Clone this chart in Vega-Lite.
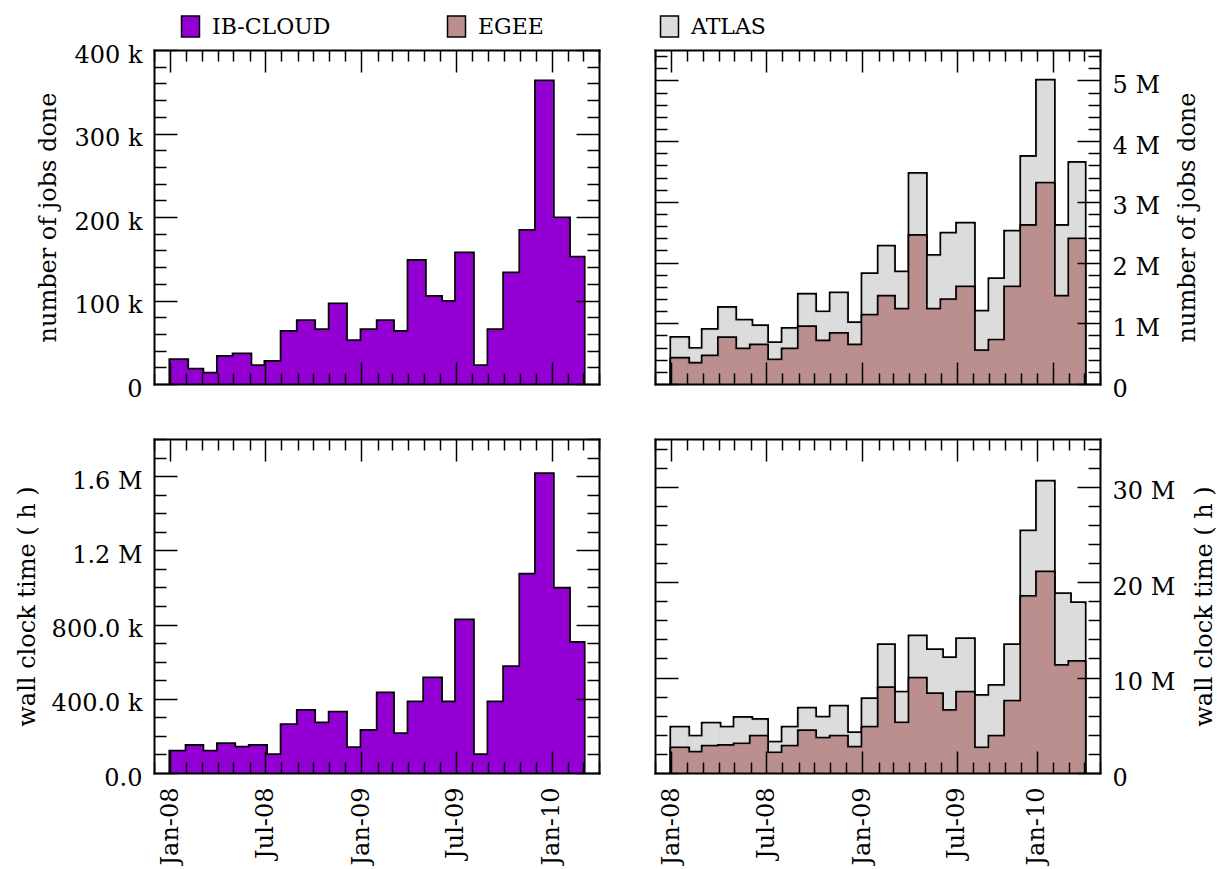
{
  "$schema": "https://vega.github.io/schema/vega-lite/v6.json",
  "background": "white",
  "padding": {"left": 15, "top": 15, "right": 0, "bottom": 0},
  "data": {
    "values": [
      {"month": "2008-01-15", "series": "IB-CLOUD", "jobs": 28000, "wall": 113500},
      {"month": "2008-02-15", "series": "IB-CLOUD", "jobs": 16800, "wall": 144000},
      {"month": "2008-03-15", "series": "IB-CLOUD", "jobs": 12000, "wall": 113500},
      {"month": "2008-04-15", "series": "IB-CLOUD", "jobs": 32000, "wall": 153000},
      {"month": "2008-05-15", "series": "IB-CLOUD", "jobs": 35000, "wall": 135000},
      {"month": "2008-06-15", "series": "IB-CLOUD", "jobs": 21000, "wall": 144000},
      {"month": "2008-07-15", "series": "IB-CLOUD", "jobs": 26000, "wall": 94000},
      {"month": "2008-08-15", "series": "IB-CLOUD", "jobs": 62000, "wall": 256000},
      {"month": "2008-09-15", "series": "IB-CLOUD", "jobs": 75000, "wall": 333000},
      {"month": "2008-10-15", "series": "IB-CLOUD", "jobs": 64000, "wall": 265000},
      {"month": "2008-11-15", "series": "IB-CLOUD", "jobs": 95000, "wall": 324000},
      {"month": "2008-12-15", "series": "IB-CLOUD", "jobs": 51000, "wall": 131500},
      {"month": "2009-01-15", "series": "IB-CLOUD", "jobs": 64000, "wall": 225000},
      {"month": "2009-02-15", "series": "IB-CLOUD", "jobs": 75000, "wall": 427000},
      {"month": "2009-03-15", "series": "IB-CLOUD", "jobs": 62000, "wall": 207000},
      {"month": "2009-04-15", "series": "IB-CLOUD", "jobs": 147000, "wall": 378000},
      {"month": "2009-05-15", "series": "IB-CLOUD", "jobs": 104000, "wall": 508000},
      {"month": "2009-06-15", "series": "IB-CLOUD", "jobs": 98000, "wall": 378000},
      {"month": "2009-07-15", "series": "IB-CLOUD", "jobs": 156000, "wall": 820000},
      {"month": "2009-08-15", "series": "IB-CLOUD", "jobs": 21000, "wall": 94000},
      {"month": "2009-09-15", "series": "IB-CLOUD", "jobs": 64000, "wall": 378000},
      {"month": "2009-10-15", "series": "IB-CLOUD", "jobs": 132000, "wall": 568000},
      {"month": "2009-11-15", "series": "IB-CLOUD", "jobs": 183000, "wall": 1067000},
      {"month": "2009-12-15", "series": "IB-CLOUD", "jobs": 362000, "wall": 1609000},
      {"month": "2010-01-15", "series": "IB-CLOUD", "jobs": 198000, "wall": 991000},
      {"month": "2010-02-15", "series": "IB-CLOUD", "jobs": 151000, "wall": 699000},
      {"month": "2008-01-15", "series": "EGEE", "jobs": 410000, "wall": 2550000},
      {"month": "2008-02-15", "series": "EGEE", "jobs": 328000, "wall": 2100000},
      {"month": "2008-03-15", "series": "EGEE", "jobs": 448000, "wall": 2730000},
      {"month": "2008-04-15", "series": "EGEE", "jobs": 749000, "wall": 2800000},
      {"month": "2008-05-15", "series": "EGEE", "jobs": 563000, "wall": 2970000},
      {"month": "2008-06-15", "series": "EGEE", "jobs": 628000, "wall": 3780000},
      {"month": "2008-07-15", "series": "EGEE", "jobs": 383000, "wall": 2030000},
      {"month": "2008-08-15", "series": "EGEE", "jobs": 563000, "wall": 2730000},
      {"month": "2008-09-15", "series": "EGEE", "jobs": 929000, "wall": 4340000},
      {"month": "2008-10-15", "series": "EGEE", "jobs": 694000, "wall": 3570000},
      {"month": "2008-11-15", "series": "EGEE", "jobs": 820000, "wall": 3780000},
      {"month": "2008-12-15", "series": "EGEE", "jobs": 628000, "wall": 2620000},
      {"month": "2009-01-15", "series": "EGEE", "jobs": 1120000, "wall": 4720000},
      {"month": "2009-02-15", "series": "EGEE", "jobs": 1432000, "wall": 8850000},
      {"month": "2009-03-15", "series": "EGEE", "jobs": 1219000, "wall": 5170000},
      {"month": "2009-04-15", "series": "EGEE", "jobs": 2432000, "wall": 9860000},
      {"month": "2009-05-15", "series": "EGEE", "jobs": 1219000, "wall": 8220000},
      {"month": "2009-06-15", "series": "EGEE", "jobs": 1377000, "wall": 6470000},
      {"month": "2009-07-15", "series": "EGEE", "jobs": 1585000, "wall": 8390000},
      {"month": "2009-08-15", "series": "EGEE", "jobs": 536000, "wall": 2550000},
      {"month": "2009-09-15", "series": "EGEE", "jobs": 710000, "wall": 3780000},
      {"month": "2009-10-15", "series": "EGEE", "jobs": 1585000, "wall": 7450000},
      {"month": "2009-11-15", "series": "EGEE", "jobs": 2596000, "wall": 18430000},
      {"month": "2009-12-15", "series": "EGEE", "jobs": 3295000, "wall": 20980000},
      {"month": "2010-01-15", "series": "EGEE", "jobs": 1432000, "wall": 11190000},
      {"month": "2010-02-15", "series": "EGEE", "jobs": 2377000, "wall": 11610000},
      {"month": "2008-01-15", "series": "ATLAS", "jobs": 754000, "wall": 4720000},
      {"month": "2008-02-15", "series": "ATLAS", "jobs": 574000, "wall": 3780000},
      {"month": "2008-03-15", "series": "ATLAS", "jobs": 885000, "wall": 5140000},
      {"month": "2008-04-15", "series": "ATLAS", "jobs": 1246000, "wall": 4720000},
      {"month": "2008-05-15", "series": "ATLAS", "jobs": 1038000, "wall": 5730000},
      {"month": "2008-06-15", "series": "ATLAS", "jobs": 945000, "wall": 5520000},
      {"month": "2008-07-15", "series": "ATLAS", "jobs": 667000, "wall": 3150000},
      {"month": "2008-08-15", "series": "ATLAS", "jobs": 902000, "wall": 4720000},
      {"month": "2008-09-15", "series": "ATLAS", "jobs": 1464000, "wall": 6710000},
      {"month": "2008-10-15", "series": "ATLAS", "jobs": 1175000, "wall": 5770000},
      {"month": "2008-11-15", "series": "ATLAS", "jobs": 1486000, "wall": 6920000},
      {"month": "2008-12-15", "series": "ATLAS", "jobs": 995000, "wall": 4130000},
      {"month": "2009-01-15", "series": "ATLAS", "jobs": 1803000, "wall": 7690000},
      {"month": "2009-02-15", "series": "ATLAS", "jobs": 2257000, "wall": 13360000},
      {"month": "2009-03-15", "series": "ATLAS", "jobs": 1831000, "wall": 8390000},
      {"month": "2009-04-15", "series": "ATLAS", "jobs": 3454000, "wall": 14270000},
      {"month": "2009-05-15", "series": "ATLAS", "jobs": 2104000, "wall": 12830000},
      {"month": "2009-06-15", "series": "ATLAS", "jobs": 2470000, "wall": 11990000},
      {"month": "2009-07-15", "series": "ATLAS", "jobs": 2634000, "wall": 13990000},
      {"month": "2009-08-15", "series": "ATLAS", "jobs": 1186000, "wall": 8040000},
      {"month": "2009-09-15", "series": "ATLAS", "jobs": 1721000, "wall": 9090000},
      {"month": "2009-10-15", "series": "ATLAS", "jobs": 2503000, "wall": 13360000},
      {"month": "2009-11-15", "series": "ATLAS", "jobs": 3732000, "wall": 25280000},
      {"month": "2009-12-15", "series": "ATLAS", "jobs": 4989000, "wall": 30490000},
      {"month": "2010-01-15", "series": "ATLAS", "jobs": 2596000, "wall": 18710000},
      {"month": "2010-02-15", "series": "ATLAS", "jobs": 3634000, "wall": 17760000}
    ]
  },
  "columns": 2,
  "spacing": {"row": 55, "column": 56},
  "bounds": "flush",
  "concat": [
    {
      "width": 445,
      "height": 334,
      "layer": [
        {
          "transform": [{"filter": "datum.series === 'IB-CLOUD'"}],
          "mark": {"type": "bar", "fill": "#000000", "stroke": "#000000", "strokeWidth": 4.5, "clip": true, "binSpacing": 0},
          "encoding": {
            "x": {"field": "month", "timeUnit": "yearmonth", "type": "temporal",
                  "scale": {"domain": [{"year": 2007, "month": 12, "date": 1}, {"year": 2010, "month": 4, "date": 1}]},
                  "axis": {"orient": "bottom", "title": null, "labels": false, "tickCount": {"interval": "month", "step": 1},
                           "tickSize": {"condition": {"test": "month(datum.value) % 6 === 0", "value": -22}, "value": -11}, "zindex": 1}},
            "y": {"field": "jobs", "type": "quantitative", "stack": null,
                  "scale": {"domain": [0, 400000], "nice": false},
                  "axis": {"orient": "left", "title": "number of jobs done", "titlePadding": 14,
                           "values": [0,20000,40000,60000,80000,100000,120000,140000,160000,180000,200000,220000,240000,260000,280000,300000,320000,340000,360000,380000,400000],
                           "labelExpr": "datum.value === 0 ? '0' : (datum.value % 100000 === 0 ? (datum.value / 1000) + ' k' : '')",
                           "labelPadding": 35, "labelBaseline": "middle", "labelOffset": 5,
                           "tickSize": {"condition": {"test": "datum.value % 100000 === 0", "value": -23}, "value": -12}, "zindex": 1}}
          }
        },
        {
          "transform": [{"filter": "datum.series === 'IB-CLOUD'"}],
          "mark": {"type": "bar", "stroke": "#9400D3", "strokeWidth": 1, "clip": true, "binSpacing": 0},
          "encoding": {
            "x": {"field": "month", "timeUnit": "yearmonth", "type": "temporal",
                  "scale": {"domain": [{"year": 2007, "month": 12, "date": 1}, {"year": 2010, "month": 4, "date": 1}]},
                  "axis": {"orient": "top", "title": null, "labels": false, "tickCount": {"interval": "month", "step": 1},
                           "tickSize": {"condition": {"test": "month(datum.value) % 6 === 0", "value": -22}, "value": -11}, "zindex": 1}},
            "y": {"field": "jobs", "type": "quantitative", "stack": null,
                  "scale": {"domain": [0, 400000], "nice": false},
                  "axis": {"orient": "right", "title": null, "labels": false,
                           "values": [0,20000,40000,60000,80000,100000,120000,140000,160000,180000,200000,220000,240000,260000,280000,300000,320000,340000,360000,380000,400000],
                           "tickSize": {"condition": {"test": "datum.value % 100000 === 0", "value": -23}, "value": -12}, "zindex": 1}},
            "color": {"field": "series", "type": "nominal",
                      "scale": {"domain": ["IB-CLOUD", "EGEE", "ATLAS"], "range": ["#9400D3", "#BC8F8F", "#DCDCDC"]},
                      "legend": {"orient": "none", "legendX": 25, "legendY": -35, "direction": "horizontal", "title": null,
                                 "symbolStrokeColor": "#000000", "symbolStrokeWidth": 1.5,
                                 "encode": {"symbols": {"update": {"stroke": {"value": "#000000"}, "strokeWidth": {"value": 1.5}}}}}}
          }
        }
      ],
      "resolve": {"axis": {"x": "independent", "y": "independent"}}
    },
    {
      "width": 445,
      "height": 334,
      "layer": [
        {
          "transform": [{"filter": "datum.series === 'ATLAS'"}],
          "mark": {"type": "bar", "fill": "#000000", "stroke": "#000000", "strokeWidth": 4.5, "clip": true, "binSpacing": 0},
          "encoding": {
            "x": {"field": "month", "timeUnit": "yearmonth", "type": "temporal",
                  "scale": {"domain": [{"year": 2007, "month": 12, "date": 1}, {"year": 2010, "month": 4, "date": 1}]},
                  "axis": {"orient": "bottom", "title": null, "labels": false, "tickCount": {"interval": "month", "step": 1},
                           "tickSize": {"condition": {"test": "month(datum.value) % 6 === 0", "value": -22}, "value": -11}, "zindex": 1}},
            "y": {"field": "jobs", "type": "quantitative", "stack": null,
                  "scale": {"domain": [0, 5500000], "nice": false},
                  "axis": {"orient": "left", "title": null, "labels": false,
                           "values": [0,200000,400000,600000,800000,1000000,1200000,1400000,1600000,1800000,2000000,2200000,2400000,2600000,2800000,3000000,3200000,3400000,3600000,3800000,4000000,4200000,4400000,4600000,4800000,5000000,5200000,5400000],
                           "tickSize": {"condition": {"test": "datum.value % 1000000 === 0", "value": -23}, "value": -12}, "zindex": 1}}
          }
        },
        {
          "transform": [{"filter": "datum.series === 'ATLAS'"}],
          "mark": {"type": "bar", "stroke": "#DCDCDC", "strokeWidth": 1, "clip": true, "binSpacing": 0},
          "encoding": {
            "x": {"field": "month", "timeUnit": "yearmonth", "type": "temporal",
                  "scale": {"domain": [{"year": 2007, "month": 12, "date": 1}, {"year": 2010, "month": 4, "date": 1}]},
                  "axis": {"orient": "top", "title": null, "labels": false, "tickCount": {"interval": "month", "step": 1},
                           "tickSize": {"condition": {"test": "month(datum.value) % 6 === 0", "value": -22}, "value": -11}, "zindex": 1}},
            "y": {"field": "jobs", "type": "quantitative", "stack": null,
                  "scale": {"domain": [0, 5500000], "nice": false},
                  "axis": {"orient": "right", "title": "number of jobs done", "titlePadding": 16, "titleAngle": 270, "titleBaseline": "top",
                           "values": [0,200000,400000,600000,800000,1000000,1200000,1400000,1600000,1800000,2000000,2200000,2400000,2600000,2800000,3000000,3200000,3400000,3600000,3800000,4000000,4200000,4400000,4600000,4800000,5000000,5200000,5400000],
                           "labelExpr": "datum.value === 0 ? '0' : (datum.value % 1000000 === 0 ? (datum.value / 1000000) + ' M' : '')",
                           "labelPadding": 35, "labelBaseline": "middle", "labelOffset": 5,
                           "tickSize": {"condition": {"test": "datum.value % 1000000 === 0", "value": -23}, "value": -12}, "zindex": 1}},
            "color": {"field": "series", "type": "nominal",
                      "scale": {"domain": ["IB-CLOUD", "EGEE", "ATLAS"], "range": ["#9400D3", "#BC8F8F", "#DCDCDC"]},
                      "legend": {"orient": "none", "legendX": 25, "legendY": -35, "direction": "horizontal", "title": null,
                                 "symbolStrokeColor": "#000000", "symbolStrokeWidth": 1.5,
                                 "encode": {"symbols": {"update": {"stroke": {"value": "#000000"}, "strokeWidth": {"value": 1.5}}}}}}
          }
        },
        {
          "transform": [{"filter": "datum.series === 'EGEE'"}],
          "mark": {"type": "bar", "fill": "#000000", "stroke": "#000000", "strokeWidth": 4.5, "clip": true, "binSpacing": 0},
          "encoding": {
            "x": {"field": "month", "timeUnit": "yearmonth", "type": "temporal",
                  "scale": {"domain": [{"year": 2007, "month": 12, "date": 1}, {"year": 2010, "month": 4, "date": 1}]}, "axis": null},
            "y": {"field": "jobs", "type": "quantitative", "stack": null,
                  "scale": {"domain": [0, 5500000], "nice": false}, "axis": null}
          }
        },
        {
          "transform": [{"filter": "datum.series === 'EGEE'"}],
          "mark": {"type": "bar", "stroke": "#BC8F8F", "strokeWidth": 1, "clip": true, "binSpacing": 0},
          "encoding": {
            "x": {"field": "month", "timeUnit": "yearmonth", "type": "temporal",
                  "scale": {"domain": [{"year": 2007, "month": 12, "date": 1}, {"year": 2010, "month": 4, "date": 1}]}, "axis": null},
            "y": {"field": "jobs", "type": "quantitative", "stack": null,
                  "scale": {"domain": [0, 5500000], "nice": false}, "axis": null},
            "color": {"field": "series", "type": "nominal",
                      "scale": {"domain": ["IB-CLOUD", "EGEE", "ATLAS"], "range": ["#9400D3", "#BC8F8F", "#DCDCDC"]},
                      "legend": {"orient": "none", "legendX": 25, "legendY": -35, "direction": "horizontal", "title": null,
                                 "symbolStrokeColor": "#000000", "symbolStrokeWidth": 1.5,
                                 "encode": {"symbols": {"update": {"stroke": {"value": "#000000"}, "strokeWidth": {"value": 1.5}}}}}}
          }
        }
      ],
      "resolve": {"axis": {"x": "independent", "y": "independent"}}
    },
    {
      "width": 445,
      "height": 334,
      "layer": [
        {
          "transform": [{"filter": "datum.series === 'IB-CLOUD'"}],
          "mark": {"type": "bar", "fill": "#000000", "stroke": "#000000", "strokeWidth": 4.5, "clip": true, "binSpacing": 0},
          "encoding": {
            "x": {"field": "month", "timeUnit": "yearmonth", "type": "temporal",
                  "scale": {"domain": [{"year": 2007, "month": 12, "date": 1}, {"year": 2010, "month": 4, "date": 1}]},
                  "axis": {"orient": "bottom", "title": null, "labels": true, "labelAngle": 270, "labelAlign": "right", "labelBaseline": "middle",
                           "labelPadding": 36,
                           "labelExpr": "month(datum.value) % 6 === 0 ? timeFormat(datum.value, '%b-%y') : ''",
                           "tickCount": {"interval": "month", "step": 1},
                           "tickSize": {"condition": {"test": "month(datum.value) % 6 === 0", "value": -22}, "value": -11}, "zindex": 1}},
            "y": {"field": "wall", "type": "quantitative", "stack": null,
                  "scale": {"domain": [0, 1800000], "nice": false},
                  "axis": {"orient": "left", "title": "wall clock time  ( h )", "titlePadding": 12,
                           "values": [0,100000,200000,300000,400000,500000,600000,700000,800000,900000,1000000,1100000,1200000,1300000,1400000,1500000,1600000,1700000,1800000],
                           "labelExpr": "datum.value === 0 ? '0.0' : (datum.value % 400000 !== 0 ? '' : (datum.value < 1000000 ? format(datum.value / 1000, '.1f') + ' k' : format(datum.value / 1000000, '.1f') + ' M'))",
                           "labelPadding": 35, "labelBaseline": "middle", "labelOffset": 5,
                           "tickSize": {"condition": {"test": "datum.value % 400000 === 0", "value": -23}, "value": -12}, "zindex": 1}}
          }
        },
        {
          "transform": [{"filter": "datum.series === 'IB-CLOUD'"}],
          "mark": {"type": "bar", "stroke": "#9400D3", "strokeWidth": 1, "clip": true, "binSpacing": 0},
          "encoding": {
            "x": {"field": "month", "timeUnit": "yearmonth", "type": "temporal",
                  "scale": {"domain": [{"year": 2007, "month": 12, "date": 1}, {"year": 2010, "month": 4, "date": 1}]},
                  "axis": {"orient": "top", "title": null, "labels": false, "tickCount": {"interval": "month", "step": 1},
                           "tickSize": {"condition": {"test": "month(datum.value) % 6 === 0", "value": -22}, "value": -11}, "zindex": 1}},
            "y": {"field": "wall", "type": "quantitative", "stack": null,
                  "scale": {"domain": [0, 1800000], "nice": false},
                  "axis": {"orient": "right", "title": null, "labels": false,
                           "values": [0,100000,200000,300000,400000,500000,600000,700000,800000,900000,1000000,1100000,1200000,1300000,1400000,1500000,1600000,1700000,1800000],
                           "tickSize": {"condition": {"test": "datum.value % 400000 === 0", "value": -23}, "value": -12}, "zindex": 1}},
            "color": {"field": "series", "type": "nominal",
                      "scale": {"domain": ["IB-CLOUD", "EGEE", "ATLAS"], "range": ["#9400D3", "#BC8F8F", "#DCDCDC"]},
                      "legend": {"orient": "none", "legendX": 25, "legendY": -35, "direction": "horizontal", "title": null,
                                 "symbolStrokeColor": "#000000", "symbolStrokeWidth": 1.5,
                                 "encode": {"symbols": {"update": {"stroke": {"value": "#000000"}, "strokeWidth": {"value": 1.5}}}}}}
          }
        }
      ],
      "resolve": {"axis": {"x": "independent", "y": "independent"}}
    },
    {
      "width": 445,
      "height": 334,
      "layer": [
        {
          "transform": [{"filter": "datum.series === 'ATLAS'"}],
          "mark": {"type": "bar", "fill": "#000000", "stroke": "#000000", "strokeWidth": 4.5, "clip": true, "binSpacing": 0},
          "encoding": {
            "x": {"field": "month", "timeUnit": "yearmonth", "type": "temporal",
                  "scale": {"domain": [{"year": 2007, "month": 12, "date": 1}, {"year": 2010, "month": 4, "date": 1}]},
                  "axis": {"orient": "bottom", "title": null, "labels": true, "labelAngle": 270, "labelAlign": "right", "labelBaseline": "middle",
                           "labelPadding": 36,
                           "labelExpr": "year(datum.value) === 2009 && month(datum.value) === 11 ? 'Jan-10' : (month(datum.value) % 6 === 0 && year(datum.value) < 2010 ? timeFormat(datum.value, '%b-%y') : '')",
                           "tickCount": {"interval": "month", "step": 1},
                           "tickSize": {"condition": {"test": "(month(datum.value) % 6 === 0 && year(datum.value) < 2010) || (year(datum.value) === 2009 && month(datum.value) === 11)", "value": -22}, "value": -11}, "zindex": 1}},
            "y": {"field": "wall", "type": "quantitative", "stack": null,
                  "scale": {"domain": [0, 35000000], "nice": false},
                  "axis": {"orient": "left", "title": null, "labels": false,
                           "values": [0,2000000,4000000,6000000,8000000,10000000,12000000,14000000,16000000,18000000,20000000,22000000,24000000,26000000,28000000,30000000,32000000,34000000],
                           "tickSize": {"condition": {"test": "datum.value % 10000000 === 0", "value": -23}, "value": -12}, "zindex": 1}}
          }
        },
        {
          "transform": [{"filter": "datum.series === 'ATLAS'"}],
          "mark": {"type": "bar", "stroke": "#DCDCDC", "strokeWidth": 1, "clip": true, "binSpacing": 0},
          "encoding": {
            "x": {"field": "month", "timeUnit": "yearmonth", "type": "temporal",
                  "scale": {"domain": [{"year": 2007, "month": 12, "date": 1}, {"year": 2010, "month": 4, "date": 1}]},
                  "axis": {"orient": "top", "title": null, "labels": false, "tickCount": {"interval": "month", "step": 1},
                           "tickSize": {"condition": {"test": "(month(datum.value) % 6 === 0 && year(datum.value) < 2010) || (year(datum.value) === 2009 && month(datum.value) === 11)", "value": -22}, "value": -11}, "zindex": 1}},
            "y": {"field": "wall", "type": "quantitative", "stack": null,
                  "scale": {"domain": [0, 35000000], "nice": false},
                  "axis": {"orient": "right", "title": "wall clock time  ( h )", "titlePadding": 18, "titleAngle": 270, "titleBaseline": "top",
                           "values": [0,2000000,4000000,6000000,8000000,10000000,12000000,14000000,16000000,18000000,20000000,22000000,24000000,26000000,28000000,30000000,32000000,34000000],
                           "labelExpr": "datum.value === 0 ? '0' : (datum.value % 10000000 === 0 ? (datum.value / 1000000) + ' M' : '')",
                           "labelPadding": 35, "labelBaseline": "middle", "labelOffset": 5,
                           "tickSize": {"condition": {"test": "datum.value % 10000000 === 0", "value": -23}, "value": -12}, "zindex": 1}},
            "color": {"field": "series", "type": "nominal",
                      "scale": {"domain": ["IB-CLOUD", "EGEE", "ATLAS"], "range": ["#9400D3", "#BC8F8F", "#DCDCDC"]},
                      "legend": {"orient": "none", "legendX": 25, "legendY": -35, "direction": "horizontal", "title": null,
                                 "symbolStrokeColor": "#000000", "symbolStrokeWidth": 1.5,
                                 "encode": {"symbols": {"update": {"stroke": {"value": "#000000"}, "strokeWidth": {"value": 1.5}}}}}}
          }
        },
        {
          "transform": [{"filter": "datum.series === 'EGEE'"}],
          "mark": {"type": "bar", "fill": "#000000", "stroke": "#000000", "strokeWidth": 4.5, "clip": true, "binSpacing": 0},
          "encoding": {
            "x": {"field": "month", "timeUnit": "yearmonth", "type": "temporal",
                  "scale": {"domain": [{"year": 2007, "month": 12, "date": 1}, {"year": 2010, "month": 4, "date": 1}]}, "axis": null},
            "y": {"field": "wall", "type": "quantitative", "stack": null,
                  "scale": {"domain": [0, 35000000], "nice": false}, "axis": null}
          }
        },
        {
          "transform": [{"filter": "datum.series === 'EGEE'"}],
          "mark": {"type": "bar", "stroke": "#BC8F8F", "strokeWidth": 1, "clip": true, "binSpacing": 0},
          "encoding": {
            "x": {"field": "month", "timeUnit": "yearmonth", "type": "temporal",
                  "scale": {"domain": [{"year": 2007, "month": 12, "date": 1}, {"year": 2010, "month": 4, "date": 1}]}, "axis": null},
            "y": {"field": "wall", "type": "quantitative", "stack": null,
                  "scale": {"domain": [0, 35000000], "nice": false}, "axis": null},
            "color": {"field": "series", "type": "nominal",
                      "scale": {"domain": ["IB-CLOUD", "EGEE", "ATLAS"], "range": ["#9400D3", "#BC8F8F", "#DCDCDC"]},
                      "legend": {"orient": "none", "legendX": 25, "legendY": -35, "direction": "horizontal", "title": null,
                                 "symbolStrokeColor": "#000000", "symbolStrokeWidth": 1.5,
                                 "encode": {"symbols": {"update": {"stroke": {"value": "#000000"}, "strokeWidth": {"value": 1.5}}}}}}
          }
        }
      ],
      "resolve": {"axis": {"x": "independent", "y": "independent"}}
    }
  ],
  "config": {
    "view": {"stroke": null},
    "font": "DejaVu Serif",
    "axis": {
      "grid": false,
      "domain": true,
      "domainColor": "#000000",
      "domainWidth": 2,
      "domainCap": "square",
      "tickColor": "#000000",
      "tickWidth": 1.5,
      "labelFont": "DejaVu Serif",
      "labelFontSize": 24,
      "labelColor": "#000000",
      "labelFlush": false,
      "labelOverlap": false,
      "labelBound": false,
      "titleFont": "DejaVu Serif",
      "titleFontSize": 24,
      "titleFontWeight": "normal",
      "titleColor": "#000000"
    },
    "legend": {
      "labelFont": "DejaVu Serif",
      "labelFontSize": 22,
      "labelColor": "#000000",
      "labelOffset": 10,
      "symbolType": "M-0.857,-1H0.857V1H-0.857Z",
      "symbolSize": 441,
      "symbolStrokeColor": "#000000",
      "symbolStrokeWidth": 1.5,
      "symbolOpacity": 1,
      "columnPadding": 113
    }
  }
}
